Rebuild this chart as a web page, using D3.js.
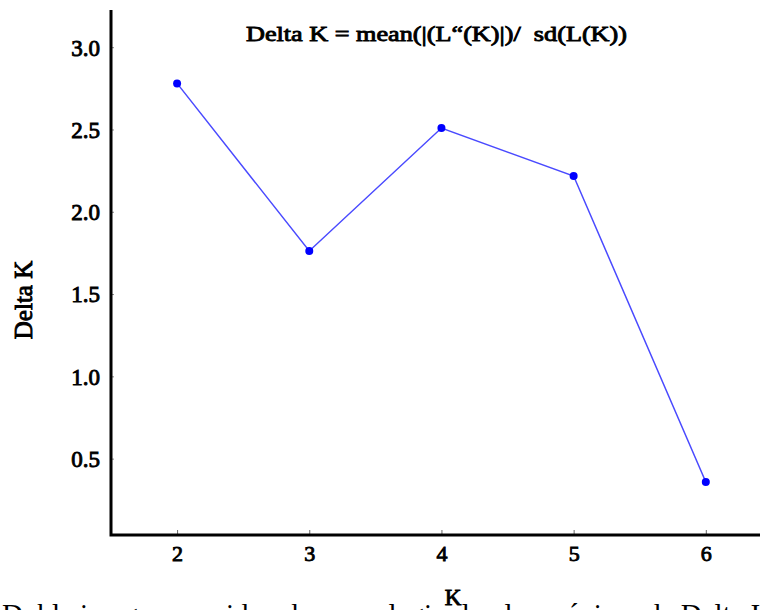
<!DOCTYPE html>
<html><head><meta charset="utf-8">
<script src="https://cdn.jsdelivr.net/npm/d3@7"></script>
<style>body{margin:0;background:#fff}svg{display:block}svg text{font-family:"Liberation Serif","Times New Roman",serif !important;font-weight:normal !important}</style>
</head><body>
<svg id="c" width="760" height="610"></svg>
<script>
const kValues = [2, 3, 4, 5, 6];
const deltaK = [2.78, 1.762, 2.509, 2.217, 0.358];
const yTicks = [0.5, 1.0, 1.5, 2.0, 2.5, 3.0];
const xTicks = [2, 3, 4, 5, 6];
const titleText = "Delta K = mean(|(L\u201C(K)|)/\u00A0 sd(L(K))";
const captionText = "Doble imagen considerada para elegir el valor máximo de Delta K";

(function () {
const FONT = "'Liberation Serif','Times New Roman',serif";
const svg = d3.select("#c");
const mLeft = 111, mRight = 760, mTop = 10, mBottom = 535;
const x = d3.scaleLinear().domain([1.5, 6.41]).range([mLeft, mRight]);
const y = d3.scaleLinear().domain([0.036, 3.226]).range([mBottom, mTop]);

// faux-bold helper (regular serif + thin stroke)
const bold = sel => sel.attr("fill", "#000").attr("stroke", "#000")
  .attr("stroke-width", 0.9).attr("paint-order", "stroke");

// y ticks
const yAxis = svg.append("g").attr("transform", `translate(${mLeft},0)`)
  .call(d3.axisRight(y).tickValues(yTicks).tickSize(3).tickFormat(d3.format(".1f")));
yAxis.attr("font-family", FONT);
yAxis.select(".domain").remove();
yAxis.selectAll(".tick line").attr("stroke", "#888").attr("stroke-width", 1);
yAxis.selectAll(".tick text").attr("x", -11).attr("text-anchor", "end")
  .attr("dy", "0.34em").style("font-size", "23px").call(bold);

// x ticks
const xAxis = svg.append("g").attr("transform", `translate(0,${mBottom})`)
  .call(d3.axisTop(x).tickValues(xTicks).tickSize(5).tickFormat(d3.format("d")));
xAxis.attr("font-family", FONT);
xAxis.select(".domain").remove();
xAxis.selectAll(".tick line").attr("stroke", "#666").attr("stroke-width", 1);
xAxis.selectAll(".tick text").attr("y", 26).attr("dy", 0)
  .style("font-size", "22px").call(bold);

// axis lines
svg.append("path").attr("d", `M${mLeft},${mTop}V${mBottom}H${mRight}`)
  .attr("fill", "none").attr("stroke", "#000").attr("stroke-width", 3);

// line
const pts = kValues.map((k, i) => [k, deltaK[i]]);
svg.append("path").datum(pts)
  .attr("d", d3.line().x(d => x(d[0])).y(d => y(d[1])))
  .attr("fill", "none").attr("stroke", "#4a4aff").attr("stroke-width", 1.5);
svg.selectAll("circle.pt").data(pts).join("circle").attr("class", "pt")
  .attr("cx", d => x(d[0])).attr("cy", d => y(d[1])).attr("r", 4)
  .attr("fill", "#0000ff");

// title
svg.append("text").attr("x", 246).attr("y", 41)
  .attr("font-family", FONT).attr("textLength", 381).attr("lengthAdjust", "spacingAndGlyphs")
  .style("font-size", "22px").call(bold).text(titleText);

// y label
svg.append("text").attr("transform", "translate(32,300) rotate(-90)")
  .attr("text-anchor", "middle").attr("font-family", FONT)
  .style("font-size", "25px").call(bold).text("Delta K");

// caption (cut off by the bottom edge, as in the source)
svg.append("text").attr("x", 2).attr("y", 624).attr("font-family", FONT)
  .style("font-size", "29px").attr("fill", "#000").text(captionText);

// x label
svg.append("text").attr("x", 453).attr("y", 605).attr("text-anchor", "middle")
  .attr("font-family", FONT)
  .style("font-size", "23px").call(bold).text("K");
})();
</script>
</body></html>
